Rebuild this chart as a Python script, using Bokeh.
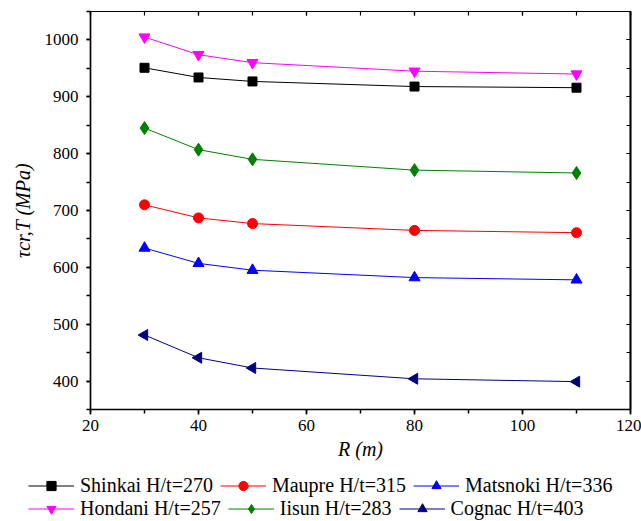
import math
from bokeh.plotting import figure
from bokeh.layouts import column
from bokeh.models import (Range1d, LinearAxis, SingleIntervalTicker, Legend, LegendItem,
                          CustomJSTickFormatter)
from bokeh.embed import file_html
from bokeh.resources import INLINE

# ---- data ----
R = [30, 40, 50, 80, 110]
shinkai = [951, 934, 927, 918, 916]
maupre = [710, 687, 677, 665, 661]
matsnoki = [634, 607, 595, 582, 578]
hondani = [1005, 974, 960, 945, 940]
iisun = [845, 807, 790, 771, 766]
cognac = [481, 441, 423, 404, 399]

labels = ["Shinkai H/t=270", "Maupre H/t=315", "Matsnoki H/t=336",
          "Hondani H/t=257", "Iisun H/t=283", "Cognac H/t=403"]

FONT = "Liberation Serif"

p = figure(width=641, height=471, output_backend="svg", toolbar_location=None,
           x_range=Range1d(20, 120), y_range=Range1d(350, 1050),
           min_border_left=90, min_border_right=11, min_border_top=11,
           min_border_bottom=62)
p.xgrid.visible = False
p.ygrid.visible = False
p.outline_line_color = "black"
p.outline_line_width = 1.2

bottom = p.below[0]
left = p.left[0]
bottom.ticker = SingleIntervalTicker(interval=20, num_minor_ticks=2)
left.ticker = SingleIntervalTicker(interval=100, num_minor_ticks=2)

for ax in (bottom, left):
    ax.axis_line_width = 1.5
    ax.major_tick_line_width = 1.5
    ax.minor_tick_line_width = 1.5
    ax.major_tick_in = 0
    ax.minor_tick_in = 0
    ax.major_label_text_font = FONT
    ax.major_label_text_font_size = "17px"
    ax.major_label_text_color = "black"
    ax.axis_label_text_font = FONT
    ax.axis_label_text_font_size = "20px"
    ax.axis_label_text_font_style = "italic"
    ax.axis_label_text_color = "black"

bottom.major_tick_out = 5
bottom.minor_tick_out = 4
left.major_tick_out = 4
left.minor_tick_out = 4
bottom.major_label_standoff = 5
left.major_label_standoff = 8
bottom.axis_label = "R (m)"
left.axis_label = "τcr,T (MPa)"
bottom.axis_label_standoff = 4
left.axis_label_standoff = 8

blank = CustomJSTickFormatter(code="return ''")
top = LinearAxis(ticker=SingleIntervalTicker(interval=20, num_minor_ticks=2),
                 formatter=blank, major_tick_in=4, major_tick_out=0,
                 minor_tick_in=4, minor_tick_out=0, axis_line_width=1.2,
                 major_tick_line_width=1.2, minor_tick_line_width=1.2,
                 major_label_standoff=0)
right = LinearAxis(ticker=SingleIntervalTicker(interval=100, num_minor_ticks=2),
                   formatter=blank, major_tick_in=4, major_tick_out=0,
                   minor_tick_in=4, minor_tick_out=0, axis_line_width=2,
                   major_tick_line_width=1.2, minor_tick_line_width=1.2,
                   major_label_standoff=0)
p.add_layout(top, "above")
p.add_layout(right, "right")

series = [
    (shinkai, "black", "square", 9, 0),
    (maupre, "red", "circle", 10, 0),
    (matsnoki, "blue", "triangle", 11, 0),
    (hondani, "magenta", "inverted_triangle", 11, 0),
    (iisun, "green", "diamond", 13, 0),
    (cognac, "navy", "triangle", 11, math.pi / 2),
]

# legend strip below the chart
lf = figure(width=641, height=50, output_backend="svg", toolbar_location=None,
            x_range=Range1d(0, 1), y_range=Range1d(0, 1),
            x_axis_location=None, y_axis_location=None,
            min_border_left=0, min_border_right=0, min_border_top=0, min_border_bottom=0)
lf.xgrid.visible = False
lf.ygrid.visible = False
lf.outline_line_color = None
offset_x = 28
if "frame_align" in type(lf).properties():
    lf.frame_align = False
    p.frame_align = False
else:
    offset_x = 28 - 90

nan = float("nan")
items = []
for (ys, col, mk, sz, ang), lab in zip(series, labels):
    p.line(R, ys, line_color=col, line_width=1)
    p.scatter(R, ys, marker=mk, size=sz, angle=ang, fill_color=col, line_color=col)
    # legend-only renderers (no visible data) in the legend strip
    lln = lf.line([nan], [nan], line_color=col, line_width=1)
    lsc = lf.scatter([nan], [nan], marker=mk, size=sz - 2, angle=ang,
                     fill_color=col, line_color=col)
    items.append(LegendItem(label=lab, renderers=[lln, lsc]))

for row, yoff in ((items[:3], 24), (items[3:], 1)):
    lg = Legend(items=row, orientation="horizontal",
                label_text_font=FONT, label_text_font_size="20px",
                label_text_color="black", glyph_width=46, glyph_height=23,
                label_standoff=6, spacing=7, label_height=23,
                border_line_color=None, background_fill_alpha=0,
                margin=0, padding=0, location=(offset_x, yoff))
    lf.add_layout(lg, "center")

layout = column(p, lf, spacing=0)
open("out.html", "w").write(file_html(layout, INLINE))
